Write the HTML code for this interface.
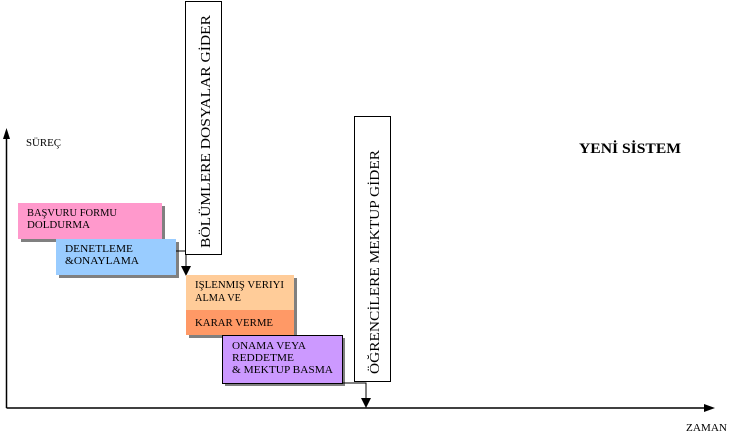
<!DOCTYPE html>
<html><head><meta charset="utf-8"><style>
html,body{margin:0;padding:0;background:#fff;}
svg{display:block;}
text{font-family:"Liberation Serif",serif;fill:#000;}
</style></head><body>
<svg width="739" height="442" viewBox="0 0 739 442" xmlns="http://www.w3.org/2000/svg">
<line x1="6.5" y1="408" x2="6.5" y2="138" stroke="#000" stroke-width="1.5"/>
<polygon points="6.5,128 3,139 10,139" fill="#000"/>
<line x1="6.5" y1="408" x2="705" y2="408" stroke="#000" stroke-width="1.5"/>
<polygon points="715,408 704,404 704,412" fill="#000"/>
<text x="26" y="146" font-size="10" textLength="35" lengthAdjust="spacingAndGlyphs">SÜREÇ</text>
<text x="686" y="431" font-size="10" textLength="41" lengthAdjust="spacingAndGlyphs">ZAMAN</text>
<text x="579" y="153" font-size="15" font-weight="bold" textLength="102" lengthAdjust="spacingAndGlyphs">YENİ SİSTEM</text>

<rect x="21" y="206" width="144" height="36" fill="#808080"/>
<rect x="18" y="203" width="144" height="36" fill="#ff99cc"/>
<text x="27" y="216" font-size="10" textLength="90" lengthAdjust="spacingAndGlyphs">BAŞVURU FORMU</text>
<text x="27" y="228" font-size="10" textLength="63" lengthAdjust="spacingAndGlyphs">DOLDURMA</text>
<rect x="59" y="242" width="120" height="36" fill="#808080"/>
<rect x="56" y="239" width="120" height="36" fill="#99ccff"/>
<text x="65" y="252" font-size="10" textLength="68" lengthAdjust="spacingAndGlyphs">DENETLEME</text>
<text x="65" y="264" font-size="10" textLength="74" lengthAdjust="spacingAndGlyphs">&amp;ONAYLAMA</text>

<polyline points="176,251 186,251 186,268" fill="none" stroke="#000" stroke-width="1"/>
<polygon points="186,276 181,266 191,266" fill="#000"/>
<rect x="185.5" y="1.5" width="36" height="253" fill="#fff" stroke="#000" stroke-width="1"/>
<text transform="translate(210,248) rotate(-90)" font-size="14" textLength="233" lengthAdjust="spacingAndGlyphs">BÖLÜMLERE DOSYALAR GİDER</text>

<rect x="189" y="278" width="108" height="60" fill="#808080"/>
<rect x="186" y="275" width="108" height="36" fill="#ffcc99"/>
<rect x="186" y="310" width="108" height="25" fill="#ff9966"/>
<text x="195" y="288" font-size="10" textLength="89" lengthAdjust="spacingAndGlyphs">IŞLENMIŞ VERIYI</text>
<text x="195" y="301" font-size="10" textLength="46" lengthAdjust="spacingAndGlyphs">ALMA VE</text>
<text x="195" y="326" font-size="10" textLength="78" lengthAdjust="spacingAndGlyphs">KARAR VERME</text>

<rect x="225" y="338" width="120" height="48" fill="#808080"/>
<rect x="222.5" y="335.5" width="120" height="48" fill="#cc99ff" stroke="#000" stroke-width="1"/>
<text x="232" y="349" font-size="10" textLength="74" lengthAdjust="spacingAndGlyphs">ONAMA VEYA</text>
<text x="232" y="361" font-size="10" textLength="62" lengthAdjust="spacingAndGlyphs">REDDETME</text>
<text x="232" y="373" font-size="10" textLength="101" lengthAdjust="spacingAndGlyphs">&amp; MEKTUP BASMA</text>

<polyline points="343,383 366,383 366,400" fill="none" stroke="#000" stroke-width="1"/>
<polygon points="366,408 361,398 371,398" fill="#000"/>
<rect x="354.5" y="116.5" width="36" height="265" fill="#fff" stroke="#000" stroke-width="1"/>
<text transform="translate(379,374) rotate(-90)" font-size="14" textLength="224" lengthAdjust="spacingAndGlyphs">ÖĞRENCİLERE MEKTUP GİDER</text>
</svg>
</body></html>
